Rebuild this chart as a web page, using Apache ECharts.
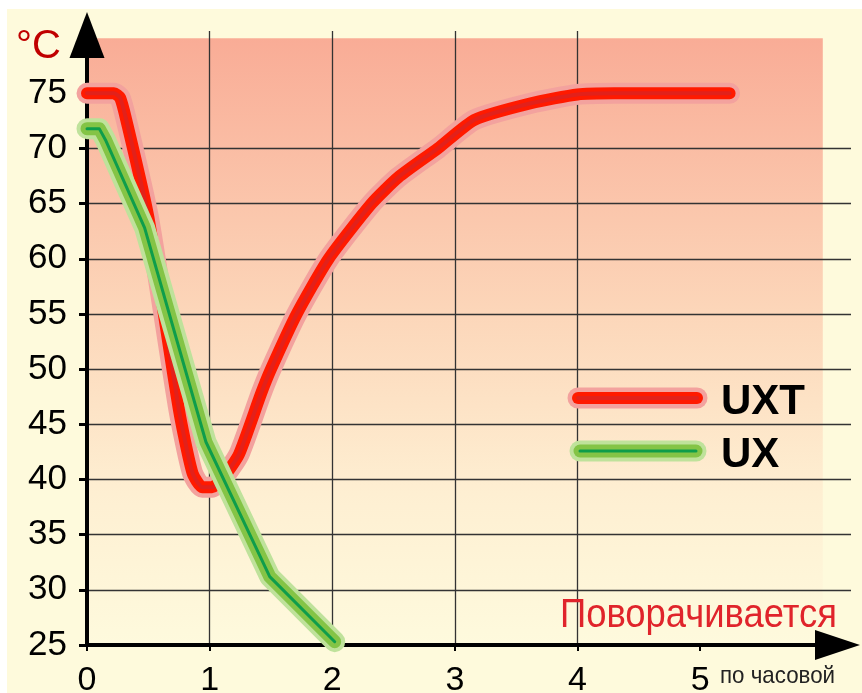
<!DOCTYPE html>
<html>
<head>
<meta charset="utf-8">
<script src="https://cdn.jsdelivr.net/npm/echarts@6/dist/echarts.min.js"></script>
<style>
html,body{margin:0;padding:0;background:#ffffff;}
#wrap{position:relative;width:862px;height:693px;overflow:hidden;background:#ffffff;}
#cream{position:absolute;left:7px;top:9px;right:0;bottom:0;background:#FEFADC;}
#c{position:absolute;left:0;top:0;width:862px;height:693px;}
</style>
</head>
<body>
<div id="wrap"><div id="cream"></div><div id="c"></div></div>
<script>
// ---- data ----
const xTicks = [0, 1, 2, 3, 4, 5];
const yTicks = [25, 30, 35, 40, 45, 50, 55, 60, 65, 70, 75];
const seriesNames = ['UXT', 'UX'];
const uxtX = [0, 0.22, 0.27, 0.32, 0.5, 0.75, 0.86, 0.94, 1.02, 1.12, 1.24, 1.42, 1.5, 1.71, 1.97, 2.32, 2.54, 2.86, 3.16, 3.62, 4.0, 4.3, 5.24];
const uxtY = [75, 75, 74.6, 72.6, 63.8, 46.3, 40.6, 39.3, 39.3, 40.3, 42.3, 47.8, 50, 55, 60, 65, 67.4, 70, 72.6, 74.1, 74.9, 75, 75];
const uxX = [0, 0.1, 0.15, 0.47, 0.97, 1.49, 2.02];
const uxY = [71.8, 71.8, 70.8, 62.8, 43.4, 31.2, 25.3];
const bgX = [0, 6];
const bgY = [25, 80];
const unitText = '°C';
const xTitle = 'Поворачивается';
const xSubTitle = 'по часовой';

const FONT = '"Liberation Sans", Arial, sans-serif';
const pairs = (xs, ys) => xs.map((x, i) => [x, ys[i]]);
const uxtData = pairs(uxtX, uxtY);
const uxData = pairs(uxX, uxY);

const redColors = ['#F3A29E', '#FF1A00', '#E2211B'];
const redWidths = [21, 12, 4];
const greenColors = ['#BFE29B', '#84C446', '#0E9D4B'];
const greenWidths = [21, 13, 3];

function layers(name, data, colors, widths, z0, smooth) {
  return colors.map((c, i) => ({
    type: 'line', name: name, data: data, symbol: 'none', showSymbol: false,
    clip: false, silent: true, animation: false, z: z0 + i, smooth: smooth,
    lineStyle: { color: c, width: widths[i], cap: 'round', join: 'round' }
  }));
}

const chart = echarts.init(document.getElementById('c'), null, { renderer: 'canvas' });

const legendItems = [
  { name: seriesNames[0], colors: redColors, widths: redWidths, x1: 578, x2: 697, y: 398, ty: 381 },
  { name: seriesNames[1], colors: greenColors, widths: greenWidths, x1: 580, x2: 696, y: 451, ty: 434 }
];
const graphics = [];
legendItems.forEach(it => {
  it.colors.forEach((c, i) => {
    graphics.push({ type: 'line', z: 100 + i, silent: true,
      shape: { x1: it.x1, y1: it.y, x2: it.x2, y2: it.y },
      style: { stroke: c, lineWidth: it.widths[i], lineCap: 'round' } });
  });
  graphics.push({ type: 'text', z: 110, x: 721, y: it.ty, silent: true,
    style: { text: it.name, font: 'bold 42px ' + FONT, fill: '#000' } });
});
graphics.push({ type: 'text', z: 110, x: 16, y: 27, silent: true,
  style: { text: unitText, font: '40px ' + FONT, fill: '#C00000' } });
graphics.push({ type: 'text', z: 110, x: 560, y: 596, scaleX: 0.91, silent: true,
  style: { text: xTitle, font: '40px ' + FONT, fill: '#E0242B' } });
graphics.push({ type: 'text', z: 110, x: 720, y: 664, scaleX: 0.93, silent: true,
  style: { text: xSubTitle, font: '24px ' + FONT, fill: '#222' } });

const option = {
  backgroundColor: 'transparent',
  animation: false,
  grid: { left: 87, right: 11, top: 31, bottom: 48, containLabel: false, outerBoundsMode: 'none' },
  xAxis: {
    type: 'value', min: 0, max: 6.23, interval: 1, z: 1,
    axisLine: { show: true, onZero: false, lineStyle: { color: '#000', width: 4 },
      symbol: ['none', 'triangle'], symbolSize: [30, 45], symbolOffset: [0, -13.5] },
    axisTick: { show: true, length: 6, customValues: xTicks, lineStyle: { color: '#000', width: 2 } },
    axisLabel: { show: true, customValues: xTicks, margin: 19, color: '#000', fontSize: 34, fontFamily: FONT,
      formatter: v => xTicks.includes(v) ? String(v) : '' },
    splitLine: { show: true, showMinLine: true, showMaxLine: false, lineStyle: { color: '#333', width: 1.3 } }
  },
  yAxis: {
    type: 'value', min: 25, max: 80.65, interval: 5, z: 1,
    axisLine: { show: true, onZero: false, lineStyle: { color: '#000', width: 4 },
      symbol: ['none', 'triangle'], symbolSize: [35, 46], symbolOffset: [0, -4] },
    axisTick: { show: true, length: 8, customValues: yTicks, lineStyle: { color: '#000', width: 3 } },
    axisLabel: { show: true, customValues: yTicks, margin: 20, color: '#000', fontSize: 35, fontFamily: FONT,
      formatter: v => yTicks.includes(v) ? String(v) : '' },
    splitLine: { show: true, showMinLine: true, showMaxLine: false, lineStyle: { color: '#333', width: 1.3 } }
  },
  graphic: graphics,
  series: [
    {
      type: 'custom', z: 0, silent: true, clip: false,
      encode: { x: [0, 2], y: [1, 3] },
      data: [[bgX[0], bgY[1], bgX[1], bgY[0]]],
      renderItem: (params, api) => {
        const p1 = api.coord([api.value(0), api.value(1)]);
        const p2 = api.coord([api.value(2), api.value(3)]);
        return { type: 'rect', shape: { x: p1[0], y: p1[1], width: p2[0] - p1[0], height: p2[1] - p1[1] },
          style: { fill: new echarts.graphic.LinearGradient(0, 0, 0, 1, [
            { offset: 0, color: '#F9AC96' },
            { offset: 0.45, color: '#FCD6B9' },
            { offset: 0.75, color: '#FEEFD2' },
            { offset: 1, color: '#FEFADD' }
          ]) } };
      }
    }
  ].concat(layers(seriesNames[0], uxtData, redColors, redWidths, 2, 0.2))
   .concat(layers(seriesNames[1], uxData, greenColors, greenWidths, 6, false))
};
chart.setOption(option);
</script>
</body>
</html>
